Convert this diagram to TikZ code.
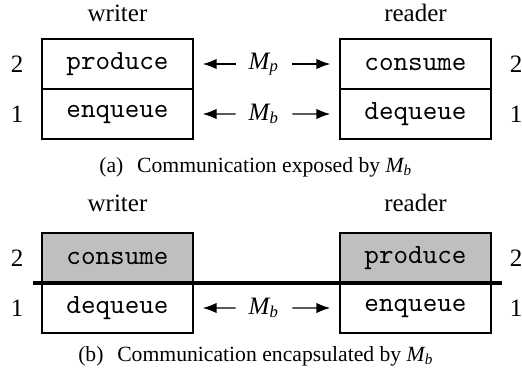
\documentclass[tikz,border=0pt]{standalone}
\usepackage{amsmath}
\usepackage{fontspec}
\setmainfont{Liberation Serif}
\usetikzlibrary{arrows.meta,positioning}

\newcommand{\msgname}[1]{$\textit{M}_{\textit{#1}}$}

\begin{document}
\begin{tikzpicture}[x=0.36pt,y=0.36pt,font=\fontsize{9}{11}\selectfont,
  cell/.style={draw,line width=0.5pt,minimum width=54.4pt,minimum height=18pt,
    inner sep=0pt,outer sep=0pt,font=\fontsize{10}{12}\selectfont\ttfamily},
  shaded/.style={cell,fill=gray!50},
  msg/.style={-{Latex[length=5pt,width=3.8pt]},line width=0.5pt,shorten >=3.5pt},
  lbl/.style={inner xsep=4.5pt,inner ysep=0pt},
  subcap/.style={font=\fontsize{7.8}{9}\selectfont}]

\useasboundingbox (0,0) rectangle (522,381);

% (a) exposed
\node (wa) at (117.5,368) {writer};
\node (ra) at (415.5,368) {reader};

\node[cell] (wprod) at (117.5,317) {produce};
\node[cell,below=0pt of wprod] (wenq) {enqueue};
\node[cell] (rcons) at (415.5,317) {consume};
\node[cell,below=0pt of rcons] (rdeq) {dequeue};

\node (la2) at (17,317) {2};
\node (la1) at (17,267) {1};
\node (ra2) at (516,317) {2};
\node (ra1) at (516,267) {1};

\node[lbl] (mp) at (264,317) {\msgname{p}};
\node[lbl] (mb) at (264,267) {\msgname{b}};
\draw[msg] (mp.west) -- (wprod.east);
\draw[msg] (mp.east) -- (rcons.west);
\draw[msg] (mb.west) -- (wenq.east);
\draw[msg] (mb.east) -- (rdeq.west);

\node[subcap] (capa) at (256,214) {(a)\hspace{3pt} Communication exposed by \msgname{b}};

% (b) encapsulated
\node (wb) at (117.5,178) {writer};
\node (rb) at (415.5,178) {reader};

\node[shaded] (wcons) at (117.5,123) {consume};
\node[cell,below=0pt of wcons] (wdeq) {dequeue};
\node[shaded] (rprod) at (415.5,123) {produce};
\node[cell,below=0pt of rprod] (renq) {enqueue};

\node (lb2) at (17,123) {2};
\node (lb1) at (17,73) {1};
\node (rb2) at (516,123) {2};
\node (rb1) at (516,73) {1};

\draw[line width=1.5pt] (33,98) -- (502,98);

\node[lbl] (mbb) at (264,73) {\msgname{b}};
\draw[msg] (mbb.west) -- (wdeq.east);
\draw[msg] (mbb.east) -- (renq.west);

\node[subcap] (capb) at (256,25) {(b)\hspace{3pt} Communication encapsulated by \msgname{b}};

\end{tikzpicture}
\end{document}
